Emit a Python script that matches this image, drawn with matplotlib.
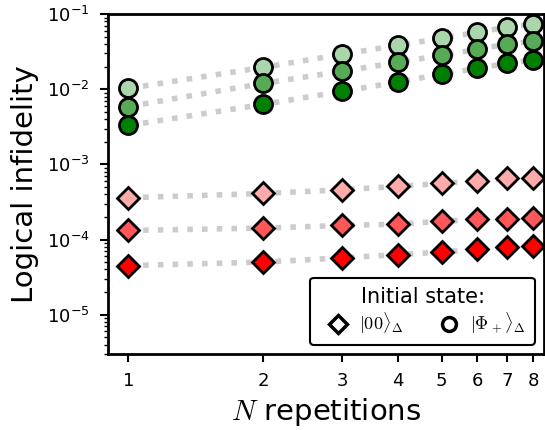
import numpy as np
import matplotlib
matplotlib.use('Agg')
import matplotlib.pyplot as plt
from matplotlib.lines import Line2D
from matplotlib.ticker import NullLocator, FixedLocator, FixedFormatter

plt.rcParams['mathtext.fontset'] = 'cm'

# data
n_reps = [1, 2, 3, 4, 5, 6, 7, 8]

phi_light = [0.0103, 0.0196, 0.0293, 0.0386, 0.0478, 0.0575, 0.067, 0.0736]
phi_mid = [0.0059, 0.0120, 0.0174, 0.0229, 0.0284, 0.0340, 0.0400, 0.0436]
phi_dark = [0.0033, 0.0063, 0.0094, 0.0125, 0.0159, 0.0190, 0.0222, 0.0244]

zero_light = [3.6e-4, 4.1e-4, 4.6e-4, 5.1e-4, 5.6e-4, 6.0e-4, 6.5e-4, 6.6e-4]
zero_mid = [1.32e-4, 1.42e-4, 1.54e-4, 1.6e-4, 1.75e-4, 1.85e-4, 1.9e-4, 1.95e-4]
zero_dark = [4.5e-5, 5.0e-5, 5.7e-5, 6.3e-5, 6.8e-5, 7.4e-5, 7.9e-5, 8.1e-5]

greens = ['#abd5ab', '#57ab57', '#008000']
reds = ['#ffabab', '#ff5757', '#ff0000']

fig = plt.figure(figsize=(5.45, 4.3), dpi=100)
ax = fig.add_axes([0.198, 0.177, 0.8, 0.79])

for ys, c in zip([phi_light, phi_mid, phi_dark], greens):
    ax.plot(n_reps, ys, linestyle=':', color='#cccccc', linewidth=4, zorder=1)
    ax.plot(n_reps, ys, linestyle='none', marker='o', markersize=13,
            markerfacecolor=c, markeredgecolor='black', markeredgewidth=2, zorder=3)

for ys, c in zip([zero_light, zero_mid, zero_dark], reds):
    ax.plot(n_reps, ys, linestyle=':', color='#cccccc', linewidth=4, zorder=1)
    ax.plot(n_reps, ys, linestyle='none', marker='D', markersize=11,
            markerfacecolor=c, markeredgecolor='black', markeredgewidth=2, zorder=3)

ax.set_xscale('log')
ax.set_yscale('log')
ax.set_xlim(0.9, 8.45)
ax.set_ylim(3e-6, 1e-1)

ax.xaxis.set_major_locator(FixedLocator(n_reps))
ax.xaxis.set_major_formatter(FixedFormatter([str(n) for n in n_reps]))
ax.xaxis.set_minor_locator(NullLocator())

ax.tick_params(axis='both', which='major', labelsize=13, width=1.5, length=6, pad=7)
ax.tick_params(axis='y', which='minor', width=1, length=3)
for s in ax.spines.values():
    s.set_linewidth(2)

ax.set_xlabel(r'$N$ repetitions', fontsize=21, labelpad=4)
ax.set_ylabel('Logical infidelity', fontsize=21, labelpad=6)

handles = [
    Line2D([], [], linestyle='none', marker='D', markersize=9, markerfacecolor='white',
           markeredgecolor='black', markeredgewidth=2.5),
    Line2D([], [], linestyle='none', marker='o', markersize=10, markerfacecolor='white',
           markeredgecolor='black', markeredgewidth=2.5),
]
leg = ax.legend(handles, [r'$|00\rangle_\Delta$', r'$|\Phi_+\rangle_\Delta$'],
                title='Initial state:', ncol=2, loc='lower right', fontsize=13,
                title_fontsize=15, frameon=True, framealpha=1, edgecolor='black',
                handletextpad=0.2, columnspacing=1.5, borderaxespad=0.5,
                labelspacing=0.2, borderpad=0.5)
leg.get_frame().set_linewidth(1.5)

fig.savefig('out.png', dpi=100)
